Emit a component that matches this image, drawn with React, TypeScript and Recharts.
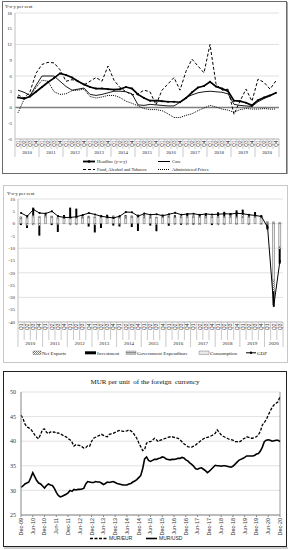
import React from "react";
import {
  LineChart,
  Line,
  ComposedChart,
  Bar,
  XAxis,
  YAxis,
  CartesianGrid,
  ReferenceLine,
} from "recharts";

const SERIF = "'Liberation Serif', 'Times New Roman', serif";
const SANS = "'Liberation Sans', Arial, sans-serif";

const QUARTERS = ["Q1", "Q2", "Q3", "Q4"];

// ---------- panel 1: inflation, 2010Q1 - 2020Q4
const inflYears = [2010, 2011, 2012, 2013, 2014, 2015, 2016, 2017, 2018, 2019, 2020];
const headline = [
  1.9, 1.7, 2.1, 3.0, 3.9, 4.8, 5.6, 6.5, 6.2, 5.7, 5.0, 4.4,
  3.9, 3.6, 3.6, 3.5, 3.4, 3.5, 3.9, 3.6, 2.5, 1.8, 1.3, 1.3,
  1.2, 1.1, 1.1, 1.0, 1.8, 2.9, 3.8, 4.1, 4.9, 4.0, 3.6, 3.1,
  1.3, 1.2, 0.9, 0.4, 1.4, 1.9, 2.3, 2.8,
];
const core = [
  3.3, 2.9, 2.3, 4.2, 6.0, 6.0, 6.0, 5.0, 4.0, 3.3, 3.5, 3.7,
  2.5, 2.3, 2.5, 2.8, 3.1, 3.1, 3.0, 2.6, 0.5, 0.4, 0.6, 0.5,
  0.4, 0.3, 0.3, 1.0, 1.9, 2.4, 2.8, 3.0, 3.1, 3.0, 2.9, 2.6,
  0.6, 0.4, 0.3, 0.2, 1.1, 1.7, 2.2, 2.8,
];
const food = [
  2.4, 1.8, 3.0, 6.5, 8.2, 8.6, 8.5, 7.2, 5.0, 5.3, 5.0, 4.3,
  5.0, 5.7, 5.0, 7.9, 5.2, 3.8, 3.0, 2.4, 2.6, 3.3, 3.0, 0.5,
  3.3, 4.5, 5.7, 3.3, 6.9, 9.2, 7.9, 6.6, 12.0, 4.5, 3.3, 3.5,
  -1.3, 1.2, 3.5, 1.2, 5.4, 4.8, 3.5, 5.1,
];
const administered = [
  -1.0, 1.5, 2.2, 3.8, 5.2, 5.0, 3.0, 2.5, 2.6, 3.2, 3.3, 3.5,
  2.1, 1.8, 2.0, 2.3, 2.3, 1.9, 1.2, 0.8, 0.3, -0.2, -0.4, -0.4,
  -0.6, -1.2, -1.9, -1.9, -1.5, -1.2, -0.6, -0.1, 0.4, 0.1, -0.3, -0.5,
  -0.9, -0.4, -0.2, -0.3, -0.3, -0.2, -0.3, -0.3,
];
const inflTicks = [-6, -3, 0, 3, 6, 9, 12, 15, 18];

// ---------- panel 2: GDP contributions, 2010Q1 - 2020Q3
const gdpYears = [2010, 2011, 2012, 2013, 2014, 2015, 2016, 2017, 2018, 2019, 2020];
const consumption = [
  2.0, 2.3, 2.8, 2.6, 2.7, 2.5, 2.0, 2.2, 2.3, 2.2, 2.3, 2.4,
  2.5, 2.6, 2.4, 2.5, 2.3, 2.2, 2.5, 2.6, 2.4, 2.3, 2.4, 2.5,
  2.6, 2.4, 2.5, 2.6, 2.5, 2.6, 2.4, 2.5, 2.6, 2.5, 2.6, 2.4,
  2.5, 2.6, 2.5, 2.4, 0.5, -23.0, -9.5,
];
const government = [
  0.3, 0.4, 0.5, 0.4, 0.3, 0.4, 0.5, 0.3, 0.4, 0.4, 0.3, 0.4,
  0.4, 0.3, 0.4, 0.3, 0.4, 0.3, 0.4, 0.3, 0.4, 0.4, 0.3, 0.4,
  0.3, 0.4, 0.3, 0.4, 0.4, 0.3, 0.4, 0.3, 0.4, 0.4, 0.3, 0.4,
  0.4, 0.3, 0.4, 0.4, 0.4, 0.8, 0.5,
];
const investment = [
  -0.6, -1.0, 3.2, -4.0, 0.5, -0.6, -3.0, 0.6, 3.8, 3.5, 0.4, -1.2,
  -3.0, -1.8, 0.5, -0.8, -0.9, 0.4, -1.4, -3.0, 0.4, -0.8, -2.6, 0.5,
  -0.9, 0.6, -0.5, 1.2, -0.4, 0.8, 1.0, -0.6, 1.6, 1.9, 0.9, 2.6,
  1.6, 0.5, 1.5, 0.6, -2.0, -5.6, -6.0,
];
const netExports = [
  0.5, -0.8, -0.5, -0.9, 0.3, 0.2, -0.4, 0.4, -0.5, -0.4, 0.5, 0.3,
  -0.6, 0.4, 0.3, 0.4, -0.3, 0.5, 0.3, 0.8, 0.5, 0.4, -0.5, 0.3,
  0.4, -0.3, 0.4, -0.5, 0.5, -0.4, 0.3, 0.4, -0.5, -0.4, 0.4, -0.3,
  1.2, -0.4, 0.3, -0.3, -0.4, -4.5, -0.8,
];
const gdp = [
  4.3, 3.0, 5.7, 4.3, 4.1, 5.0, 3.0, 2.5, 2.5, 2.8, 3.5, 4.3,
  3.7, 3.0, 2.6, 2.3, 3.0, 4.7, 4.6, 3.0, 4.1, 3.6, 3.8, 3.2,
  3.8, 4.4, 3.6, 3.9, 4.0, 3.6, 3.9, 3.7, 3.8, 4.0, 3.9, 4.2,
  4.0, 3.6, 3.3, 2.9, -1.5, -33.5, -15.2,
];
const gdpTicks = [-40, -35, -30, -25, -20, -15, -10, -5, 0, 5, 10];

// ---------- panel 3: MUR per unit of foreign currency, Dec-09 - Dec-20
const MONTHS = ["Jan", "Feb", "Mar", "Apr", "May", "Jun", "Jul", "Aug", "Sep", "Oct", "Nov", "Dec"];
const murEur = [
  45.3, 44.6, 43.5, 42.9, 42.7, 42.4, 41.9, 41.3, 40.8, 40.5, 41.4, 42.4, 42.5,
  41.8, 41.5, 41.9, 41.8, 41.9, 41.6, 41.7, 41.5, 41.3, 41.0, 40.9, 40.5,
  40.3, 39.8, 39.0, 39.3, 39.2, 39.1, 38.9, 38.6, 38.7, 39.1, 39.0, 40.0,
  40.6, 40.8, 41.0, 41.2, 41.4, 41.2, 41.0, 40.9, 41.4, 41.5, 41.6, 41.8,
  42.0, 42.2, 42.1, 42.0, 42.0, 42.1, 42.3, 42.1, 41.8, 41.2, 40.6, 39.7,
  38.9, 38.1, 38.3, 39.6, 39.9, 39.9, 40.2, 40.6, 40.3, 39.9, 40.2, 40.3,
  40.5, 40.6, 40.8, 40.9, 40.9, 40.8, 40.7, 40.6, 40.3, 39.9, 39.5, 39.2,
  38.9, 38.8, 38.8, 39.0, 39.2, 39.6, 39.9, 40.2, 40.5, 40.7, 40.8, 40.9,
  41.1, 41.3, 41.6, 42.3, 41.8, 41.3, 41.0, 40.8, 40.6, 40.4, 40.3, 40.2,
  39.9, 39.9, 39.8, 40.0, 40.4, 40.6, 40.9, 40.8, 40.6, 40.6, 40.8, 40.9,
  41.3, 42.0, 43.3, 43.8, 44.4, 45.3, 46.1, 46.9, 47.4, 47.7, 48.0, 49.1,
];
const murUsd = [
  30.6, 30.9, 31.3, 31.5, 31.7, 32.6, 33.6, 32.8, 32.0, 31.5, 31.3, 30.9, 30.5,
  31.0, 31.3, 31.1, 31.0, 30.4, 29.6, 29.0, 28.7, 28.8, 29.0, 29.2, 29.5,
  30.0, 29.8, 30.2, 30.1, 30.2, 30.2, 30.3, 30.4, 31.3, 31.8, 31.7, 31.6,
  31.6, 31.8, 31.7, 31.7, 31.5, 31.2, 31.4, 31.7, 31.6, 31.7, 31.8, 31.6,
  31.4, 31.3, 31.2, 31.1, 31.1, 31.1, 31.3, 31.4, 31.7, 31.9, 32.2, 32.6,
  33.0, 34.4, 36.4, 36.8, 36.1, 35.9, 36.1, 36.3, 36.3, 36.5, 36.6, 36.8,
  36.7, 36.4, 36.3, 36.2, 36.3, 36.3, 36.4, 36.5, 36.5, 36.7, 36.6, 36.2,
  36.0, 35.6, 35.3, 34.9, 34.4, 34.3, 34.5, 34.6, 34.3, 34.0, 33.6, 33.9,
  34.3, 34.7, 35.1, 35.0, 35.0, 34.9, 35.0, 35.0, 34.9, 34.8, 34.7, 34.9,
  35.3, 35.7, 36.1, 36.3, 36.5, 36.7, 37.0, 37.0, 37.0, 37.0, 37.1, 37.4,
  37.5, 38.0, 38.8, 39.9, 40.2, 40.3, 40.2, 40.0, 40.1, 40.2, 40.2, 39.9,
];
const fxTicks = [25, 30, 35, 40, 45, 50];

// ---------- tables for recharts
const inflData = inflYears.flatMap((yr, yi) =>
  QUARTERS.map((q, qi) => {
    const i = yi * 4 + qi;
    return {
      key: `${q} ${yr}`,
      headline: headline[i],
      core: core[i],
      food: food[i],
      administered: administered[i],
    };
  })
);
const inflKeys = inflData.map((d) => d.key);

const gdpData = gdpYears
  .flatMap((yr) => QUARTERS.map((q) => `${q} ${yr}`))
  .slice(0, gdp.length)
  .map((key, i) => ({
    key,
    consumption: consumption[i],
    government: government[i],
    netExports: netExports[i],
    investment: investment[i],
    gdp: gdp[i],
  }));
const gdpKeys = gdpData.map((d) => d.key);

const fxData = murEur.map((eur, i) => {
  const m = 11 + i;
  const label = `${MONTHS[m % 12]}-${String(2009 + Math.floor(m / 12)).slice(2)}`;
  return { month: label, eur, usd: murUsd[i] };
});

// two-level quarter / year category axis (Excel style)
function makeQuarterTick(o: {
  keys: string[];
  band: number;
  innerH: number;
  outerH: number;
  qSize: number;
  ySize: number;
  yearY: number;
}) {
  return function QuarterTick(props: any) {
    const { x, y, payload } = props;
    const i = o.keys.indexOf(payload.value);
    const [q, yr] = String(payload.value).split(" ");
    const left = x - o.band / 2;
    const yearStart = i % 4 === 0;
    const inYear = Math.min(4, o.keys.length - i);
    return (
      <g>
        <line
          x1={left}
          x2={left}
          y1={y}
          y2={y + (yearStart ? o.outerH : o.innerH)}
          stroke="#a6a6a6"
          strokeWidth={0.6}
        />
        {i === o.keys.length - 1 && (
          <line x1={left + o.band} x2={left + o.band} y1={y} y2={y + o.outerH} stroke="#a6a6a6" strokeWidth={0.6} />
        )}
        <text
          x={x}
          y={y + 1.5}
          dy={o.qSize * 0.35}
          transform={`rotate(-90 ${x} ${y + 1.5})`}
          textAnchor="end"
          fontSize={o.qSize}
          fontFamily={SANS}
          fill="#333"
        >
          {q}
        </text>
        {yearStart && (
          <text
            x={left + (o.band * inYear) / 2}
            y={y + o.yearY}
            textAnchor="middle"
            fontSize={o.ySize}
            fontFamily={SERIF}
            fill="#222"
          >
            {yr}
          </text>
        )}
      </g>
    );
  };
}

const MonthTick = (props: any) => {
  const { x, y, payload } = props;
  return (
    <text
      x={x}
      y={y}
      dy={1.9}
      transform={`rotate(-90 ${x} ${y})`}
      textAnchor="end"
      fontSize={5.4}
      fontFamily={SANS}
      fill="#333"
    >
      {payload.value}
    </text>
  );
};

const yTick = (size: number) => ({ fontSize: size, fill: "#333", fontFamily: SERIF });

function Overlay() {
  const t = (x: number, y: number, s: string, size = 4.8, family = SERIF) => (
    <text x={x} y={y} fontSize={size} fontFamily={family} fill="#222">
      {s}
    </text>
  );
  return (
    <svg width={291} height={550} style={{ position: "absolute", left: 0, top: 0 }}>
      <defs>
        <pattern id="pat-nx" patternUnits="userSpaceOnUse" width="2" height="2">
          <rect width="2" height="2" fill="#fff" />
          <path d="M-0.5,0.5 L0.5,-0.5 M0,2 L2,0 M1.5,2.5 L2.5,1.5" stroke="#000" strokeWidth="0.5" />
        </pattern>
        <pattern id="pat-cons" patternUnits="userSpaceOnUse" width="2" height="2">
          <rect width="2" height="2" fill="#fff" />
          <circle cx="1" cy="1" r="0.45" fill="#555" />
        </pattern>
        <pattern id="pat-gov" patternUnits="userSpaceOnUse" width="2" height="1.6">
          <rect width="2" height="1.6" fill="#e0e0e0" />
          <rect width="2" height="0.7" fill="#777" />
        </pattern>
      </defs>

      {/* frames */}
      <rect x={2.5} y={1.5} width={284} height={172} fill="none" stroke="#6b6b6b" />
      <line x1={287.5} x2={287.5} y1={2} y2={174} stroke="#aaa" />
      <rect x={3.5} y={185.5} width={284} height={177} fill="none" stroke="#c8c8c8" />
      <rect x={3.5} y={371.5} width={283} height={175} fill="none" stroke="#222" />
      <line x1={4} x2={288} y1={548} y2={548} stroke="#999" />

      {/* panel 1 texts + legend */}
      {t(5, 8, "Y-o-y per cent", 4.8)}
      <line x1={83} x2={95} y1={161.5} y2={161.5} stroke="#000" strokeWidth={1.8} />
      <circle cx={89} cy={161.5} r={1.3} fill="#000" />
      {t(97, 163.3, "Headline (y-o-y)", 4.5)}
      <line x1={158} x2={170} y1={161.5} y2={161.5} stroke="#000" strokeWidth={1} />
      {t(172, 163.3, "Core", 4.5)}
      <line x1={83} x2={95} y1={169.5} y2={169.5} stroke="#000" strokeWidth={1} strokeDasharray="3 2" />
      {t(97, 171.3, "Food, Alcohol and Tobacco", 4.5)}
      <line x1={158} x2={170} y1={169.5} y2={169.5} stroke="#000" strokeWidth={1} strokeDasharray="1 1" />
      {t(172, 171.3, "Administered Prices", 4.5)}

      {/* panel 2 texts + legend */}
      {t(7, 195, "Y-o-y per cent", 4.8)}
      <rect x={33} y={351} width={8} height={3.5} fill="url(#pat-nx)" stroke="#333" strokeWidth={0.3} />
      {t(42, 354.5, "Net Exports", 5)}
      <rect x={85} y={351.3} width={11} height={3} fill="#000" />
      {t(97, 354.5, "Investment", 5)}
      <rect x={126} y={351} width={10} height={3.5} fill="url(#pat-gov)" stroke="#555" strokeWidth={0.3} />
      {t(137, 354.5, "Government Expenditure", 5)}
      <rect x={199} y={351} width={10} height={3.5} fill="url(#pat-cons)" stroke="#333" strokeWidth={0.3} />
      {t(210, 354.5, "Consumption", 5)}
      <line x1={246} x2={256} y1={352.8} y2={352.8} stroke="#000" strokeWidth={1} />
      <circle cx={251} cy={352.8} r={1.2} fill="#000" />
      {t(257, 354.5, "GDP", 5)}

      {/* panel 3 title + legend */}
      <text x={145} y={384} textAnchor="middle" fontSize={7} fontFamily={SERIF} fill="#111" xmlSpace="preserve">
        MUR per unit  of the foreign  currency
      </text>
      <line x1={90} x2={107} y1={538.5} y2={538.5} stroke="#000" strokeWidth={1.3} strokeDasharray="3 1.5" />
      {t(109, 540.3, "MUR/EUR", 5, SANS)}
      <line x1={146} x2={157} y1={538.5} y2={538.5} stroke="#000" strokeWidth={1.6} />
      {t(159, 540.3, "MUR/USD", 5, SANS)}
    </svg>
  );
}

export default function App() {
  const inflBand = 264 / inflData.length;
  const gdpBand = 265 / gdpData.length;
  return (
    <div style={{ position: "absolute", left: 0, top: 0, width: 291, height: 550, background: "#fff" }}>
      <Overlay />

      <div style={{ position: "absolute", left: 0, top: 0 }}>
        <LineChart width={291} height={176} data={inflData} margin={{ top: 13, right: 12, left: 0, bottom: 17 }}>
          <CartesianGrid vertical={false} stroke="#d9d9d9" strokeWidth={0.8} />
          <XAxis
            dataKey="key"
            scale="band"
            interval={0}
            height={20}
            tickLine={false}
            tickSize={0}
            tickMargin={0}
            axisLine={{ stroke: "#bfbfbf" }}
            tick={makeQuarterTick({ keys: inflKeys, band: inflBand, innerH: 10, outerH: 18, qSize: 4.6, ySize: 4.8, yearY: 15 })}
          />
          <YAxis
            domain={[-6, 18]}
            ticks={inflTicks}
            width={15}
            tickLine={false}
            tickSize={2}
            tickMargin={1}
            axisLine={{ stroke: "#bfbfbf" }}
            tick={yTick(4.8)}
          />
          <ReferenceLine y={0} stroke="#7f7f7f" strokeWidth={1.3} />
          <Line dataKey="administered" stroke="#000" strokeWidth={1} strokeDasharray="1 1" dot={false} isAnimationActive={false} />
          <Line dataKey="food" stroke="#000" strokeWidth={1} strokeDasharray="3 2" dot={false} isAnimationActive={false} />
          <Line dataKey="core" stroke="#000" strokeWidth={0.9} dot={false} isAnimationActive={false} />
          <Line
            dataKey="headline"
            stroke="#000"
            strokeWidth={1.7}
            dot={{ r: 1, fill: "#000", stroke: "none" }}
            isAnimationActive={false}
          />
        </LineChart>
      </div>

      <div style={{ position: "absolute", left: 0, top: 185 }}>
        <ComposedChart
          width={291}
          height={178}
          data={gdpData}
          stackOffset="sign"
          barCategoryGap="30%"
          margin={{ top: 14, right: 8, left: 0, bottom: 19 }}
        >
          <CartesianGrid vertical={false} stroke="#d9d9d9" strokeWidth={0.8} />
          <XAxis
            dataKey="key"
            interval={0}
            height={22}
            tickLine={false}
            tickSize={0}
            tickMargin={0}
            axisLine={{ stroke: "#bfbfbf" }}
            tick={makeQuarterTick({ keys: gdpKeys, band: gdpBand, innerH: 18, outerH: 25, qSize: 5, ySize: 5, yearY: 23 })}
          />
          <YAxis
            domain={[-40, 10]}
            ticks={gdpTicks}
            width={18}
            tickLine={false}
            tickSize={2}
            tickMargin={1}
            axisLine={{ stroke: "#bfbfbf" }}
            tick={yTick(5)}
          />
          <Bar dataKey="consumption" stackId="g" fill="url(#pat-cons)" stroke="#333" strokeWidth={0.4} isAnimationActive={false} />
          <Bar dataKey="government" stackId="g" fill="url(#pat-gov)" stroke="#555" strokeWidth={0.3} isAnimationActive={false} />
          <Bar dataKey="netExports" stackId="g" fill="url(#pat-nx)" stroke="#333" strokeWidth={0.3} isAnimationActive={false} />
          <Bar dataKey="investment" stackId="g" fill="#000" isAnimationActive={false} />
          <Line
            dataKey="gdp"
            stroke="#000"
            strokeWidth={1}
            dot={{ r: 1.1, fill: "#000", stroke: "none" }}
            isAnimationActive={false}
          />
        </ComposedChart>
      </div>

      <div style={{ position: "absolute", left: 0, top: 370 }}>
        <LineChart width={291} height={176} data={fxData} margin={{ top: 22, right: 11, left: 0, bottom: 7 }}>
          <CartesianGrid vertical={false} stroke="#d9d9d9" strokeWidth={0.8} />
          <XAxis
            dataKey="month"
            interval={5}
            height={24}
            tickSize={2}
            tickMargin={1}
            tickLine={{ stroke: "#888" }}
            axisLine={{ stroke: "#888" }}
            tick={MonthTick}
          />
          <YAxis
            domain={[25, 50]}
            ticks={fxTicks}
            width={21}
            tickLine={false}
            tickSize={2}
            tickMargin={3}
            axisLine={{ stroke: "#888" }}
            tick={yTick(6)}
          />
          <ReferenceLine x="Dec-20" stroke="#999" />
          <Line dataKey="eur" stroke="#000" strokeWidth={1.3} strokeDasharray="3 1.5" dot={false} isAnimationActive={false} />
          <Line dataKey="usd" stroke="#000" strokeWidth={1.6} dot={false} isAnimationActive={false} />
        </LineChart>
      </div>
    </div>
  );
}
